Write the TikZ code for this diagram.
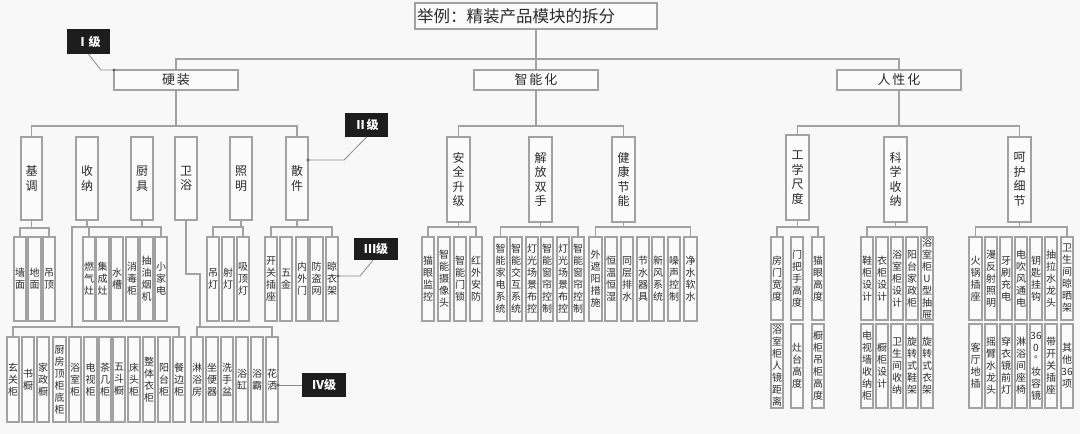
\documentclass[tikz,border=0pt]{standalone}
\usepackage{fontspec}
\setmainfont{Noto Sans CJK SC}
\newfontfamily\widecjk{Noto Sans CJK SC}[LetterSpace=14]
\definecolor{ln}{HTML}{A2A2A2}
\definecolor{bg}{HTML}{F8F8F8}
\definecolor{bx}{HTML}{FBFBFB}
\definecolor{tx}{HTML}{2B2B2B}
\definecolor{lb}{HTML}{1D1D1D}
\makeatletter
\newcommand\vt[1]{\vbox{\lineskiplimit=-100pt\@tfor\vt@c:=#1\do{\hbox to 0pt{\hss\vt@c\hss}}}}
\makeatother
\newcommand\B[7]{\node[#1, minimum width={#4-#3}, minimum height={#6-#5}] (#2) at ({(#3+#4)/2},{(#5+#6)/2}) {\vt{#7}};}
\newcommand\T[4]{\coordinate (tb) at (0,#2);
 \draw[conn] (#1.south) -- (#1.south |- tb);
 \draw[conn] (#3.north) -- (#3.north |- tb) -- (#4.north |- tb) -- (#4.north);}
\begin{document}
\begin{tikzpicture}[x=1pt,y=-1pt,
 box/.style={draw=ln, line width=1.1pt, fill=bx, inner sep=0pt, outer sep=0pt, text=tx},
 l1/.style={box, minimum width=124, minimum height=20, font=\widecjk\fontsize{13}{15}\selectfont},
 l2/.style={box, font=\fontsize{12}{14.5}\selectfont},
 sm/.style={box, font=\fontsize{10}{12}\selectfont},
 lab/.style={fill=lb, text=white, inner sep=0pt, font=\bfseries\fontsize{12}{14}\selectfont},
 conn/.style={draw=ln, line width=1.1pt},
 thin/.style={draw=ln!85!black, line width=0.8pt},
 dot/.style={fill=ln!60!black}]
\useasboundingbox (0,0) rectangle (1080,434);
\fill[bg] (0,0) rectangle (1080,434);
% title and level I
\node[box, minimum width=242, minimum height=26, text width=238, align=left, font=\fontsize{16.5}{18}\selectfont] (title) at (536,16) {举例：精装产品模块的拆分};
\node[l1] (yz) at (176,80) {硬装};
\node[l1] (zn) at (536,80) {智能化};
\node[l1] (rx) at (899,80) {人性化};
\coordinate (t0) at (0,59);
\draw[conn] (title.south) -- (zn.north);
\draw[conn] (yz.north) -- (yz.north |- t0) -- (rx.north |- t0) -- (rx.north);
% level II
\B{l2}{b1}{21}{42}{137}{220}{基调}
\B{l2}{b2}{76}{98}{137}{220}{收纳}
\B{l2}{b3}{131}{153}{137}{220}{厨具}
\B{l2}{b4}{175}{197}{137}{220}{卫浴}
\B{l2}{b5}{230}{252}{137}{220}{照明}
\B{l2}{b6}{286}{308}{137}{220}{散件}
\B{l2}{m1}{447}{470}{137}{222}{安全升级}
\B{l2}{m2}{529}{552}{137}{222}{解放双手}
\B{l2}{m3}{612}{635}{137}{222}{健康节能}
\B{l2}{r1}{786}{809}{135}{220}{工学尺度}
\B{l2}{r2}{884}{907}{137}{222}{科学收纳}
\B{l2}{r3}{1008}{1031}{137}{222}{呵护细节}
\T{yz}{126}{b1}{b6}
\T{zn}{126}{m1}{m3}
\T{rx}{126}{r1}{r3}
% level III left
\B{sm}{c11}{14}{26}{237}{321}{墙面}
\B{sm}{c12}{28}{41}{237}{321}{地面}
\B{sm}{c13}{43}{55}{237}{321}{吊顶}
\B{sm}{c31}{83}{95}{237}{321}{燃气灶}
\B{sm}{c32}{96}{109}{237}{321}{集成灶}
\B{sm}{c33}{111}{123}{237}{321}{水槽}
\B{sm}{c34}{126}{138}{237}{321}{消毒柜}
\B{sm}{c35}{140}{153}{237}{321}{抽油烟机}
\B{sm}{c36}{155}{167}{237}{321}{小家电}
\B{sm}{c51}{207}{219}{237}{321}{吊灯}
\B{sm}{c52}{222}{234}{237}{321}{射灯}
\B{sm}{c53}{237}{249}{237}{321}{吸顶灯}
\B{sm}{c61}{265}{277}{237}{321}{开关插座}
\B{sm}{c62}{280}{292}{237}{321}{五金}
\B{sm}{c63}{296}{308}{237}{321}{内外门}
\B{sm}{c64}{310}{323}{237}{321}{防盗网}
\B{sm}{c65}{326}{338}{237}{321}{晾衣架}
\T{b1}{228}{c11}{c13}
\T{b3}{227}{c31}{c36}
\T{b5}{227}{c51}{c53}
\T{b6}{227}{c61}{c65}
% level IV left
\B{sm}{d01}{7}{19}{337}{422}{玄关柜}
\B{sm}{d02}{22}{34}{337}{422}{书橱}
\B{sm}{d03}{37}{49}{337}{422}{家政橱}
\B{sm}{d04}{53}{66}{337}{422}{厨房顶柜底柜}
\B{sm}{d05}{69}{81}{337}{422}{浴室柜}
\B{sm}{d06}{84}{97}{337}{422}{电视柜}
\B{sm}{d07}{99}{111}{337}{422}{茶几柜}
\B{sm}{d08}{113}{125}{337}{422}{五斗橱}
\B{sm}{d09}{128}{140}{337}{422}{床头柜}
\B{sm}{d10}{143}{155}{337}{422}{整体衣柜}
\B{sm}{d11}{158}{170}{337}{422}{阳台柜}
\B{sm}{d12}{173}{185}{337}{422}{餐边柜}
\B{sm}{e1}{191}{203}{337}{422}{淋浴房}
\B{sm}{e2}{206}{218}{337}{422}{坐便器}
\B{sm}{e3}{221}{233}{337}{422}{洗手盆}
\B{sm}{e4}{236}{248}{337}{422}{浴缸}
\B{sm}{e5}{251}{263}{337}{422}{浴霸}
\B{sm}{e6}{266}{278}{337}{422}{花洒}
\coordinate (k1) at (72,227);
\coordinate (k1b) at (72,327);
\draw[conn] (b2.south) |- (k1) -- (k1b);
\draw[conn] (d01.north) -- (d01.north |- k1b) -- (d12.north |- k1b) -- (d12.north);
\coordinate (k2) at (200,274);
\coordinate (k2b) at (200,327);
\draw[conn] (b4.south) |- (k2) -- (k2b);
\draw[conn] (e1.north) -- (e1.north |- k2b) -- (e6.north |- k2b) -- (e6.north);
% level III middle
\B{sm}{n11}{422}{434}{237}{321}{猫眼监控}
\B{sm}{n12}{438}{450}{237}{321}{智能摄像头}
\B{sm}{n13}{454}{466}{237}{321}{智能门锁}
\B{sm}{n14}{470}{482}{237}{321}{红外安防}
\B{sm}{n21}{494}{507}{237}{321}{智能家电系统}
\B{sm}{n22}{510}{522}{237}{321}{智能交互系统}
\B{sm}{n23}{526}{538}{237}{321}{灯光场景布控}
\B{sm}{n24}{541}{553}{237}{321}{智能窗帘控制}
\B{sm}{n25}{557}{569}{237}{321}{灯光场景布控}
\B{sm}{n26}{572}{584}{237}{321}{智能窗帘控制}
\B{sm}{n31}{589}{602}{237}{321}{外遮阳措施}
\B{sm}{n32}{605}{617}{237}{321}{恒温恒湿}
\B{sm}{n33}{621}{633}{237}{321}{同层排水}
\B{sm}{n34}{637}{649}{237}{321}{节水器具}
\B{sm}{n35}{652}{664}{237}{321}{新风系统}
\B{sm}{n36}{668}{680}{237}{321}{噪声控制}
\B{sm}{n37}{684}{697}{237}{321}{净水软水}
\T{m1}{227}{n11}{n14}
\T{m2}{227}{n21}{n26}
\T{m3}{227}{n31}{n37}
% level III right
\B{sm}{s11}{771}{783}{237}{320}{房门宽度}
\B{sm}{s12}{791}{803}{237}{320}{门把手高度}
\B{sm}{s13}{812}{824}{237}{320}{猫眼高度}
\B{sm}{s21}{861}{873}{237}{320}{鞋柜设计}
\B{sm}{s22}{876}{888}{237}{320}{衣柜设计}
\B{sm}{s23}{891}{903}{237}{320}{浴室柜设计}
\B{sm}{s24}{906}{918}{237}{320}{阳台家政柜}
\B{sm}{s25}{921}{933}{237}{320}{浴室柜U型抽屉}
\B{sm}{s31}{969}{982}{237}{320}{火锅插座}
\B{sm}{s32}{985}{997}{237}{320}{漫反射照明}
\B{sm}{s33}{1000}{1012}{237}{320}{牙刷充电}
\B{sm}{s34}{1015}{1027}{237}{320}{电吹风通电}
\B{sm}{s35}{1030}{1042}{237}{320}{钥匙挂钩}
\B{sm}{s36}{1045}{1057}{237}{320}{抽拉水龙头}
\B{sm}{s37}{1061}{1073}{237}{320}{卫生间晾晒架}
\T{r1}{227}{s11}{s13}
\T{r2}{227}{s21}{s25}
\T{r3}{227}{s31}{s37}
% level IV right
\B{sm}{u11}{771}{783}{324}{408}{浴室柜人镜距离}
\B{sm}{u12}{791}{803}{324}{408}{灶台高度}
\B{sm}{u13}{812}{824}{324}{408}{橱柜吊柜高度}
\B{sm}{u21}{861}{873}{324}{408}{电视墙收纳柜}
\B{sm}{u22}{876}{888}{324}{408}{橱柜设计}
\B{sm}{u23}{891}{903}{324}{408}{卫生间收纳}
\B{sm}{u24}{906}{918}{324}{408}{旋转式鞋架}
\B{sm}{u25}{921}{933}{324}{408}{旋转式衣架}
\B{sm}{u31}{969}{982}{324}{408}{客厅地插}
\B{sm}{u32}{985}{997}{324}{408}{摇臂水龙头}
\B{sm}{u33}{1000}{1012}{324}{408}{穿衣镜前灯}
\B{sm}{u34}{1015}{1027}{324}{408}{淋浴间座椅}
\B{sm}{u35}{1030}{1042}{324}{408}{{36}0°妆容镜}
\B{sm}{u36}{1045}{1057}{324}{408}{带开关插座}
\B{sm}{u37}{1061}{1073}{324}{408}{其他{36}项}
% level labels
\node[lab, minimum width=43, minimum height=25] (lv1) at (88.5,41.5) {Ⅰ级};
\coordinate (q1) at (101,70);
\draw[thin] (lv1.south) -- (q1) -- (yz.north west);
\fill[dot] (yz.north west) circle (1.6);
\node[lab, minimum width=43, minimum height=24] (lv2) at (366.5,125) {Ⅱ级};
\coordinate (q2) at (344,160);
\draw[thin] (lv2.south) -- (q2) -- (b6.east |- q2);
\fill[dot] (b6.east |- q2) circle (1.6);
\node[lab, minimum width=44, minimum height=22] (lv3) at (376,249) {Ⅲ级};
\coordinate (q3) at (360,276);
\draw[thin] ([xshift=-3pt]lv3.south) -- (q3) -- (c65.east |- q3);
\fill[dot] (c65.east |- q3) circle (1.6);
\node[lab, minimum width=44, minimum height=24] (lv4) at (324,385) {Ⅳ级};
\draw[thin] (lv4.west) -- (e6.east |- lv4.west);
\fill[dot] (e6.east |- lv4.west) circle (1.6);
\end{tikzpicture}
\end{document}
